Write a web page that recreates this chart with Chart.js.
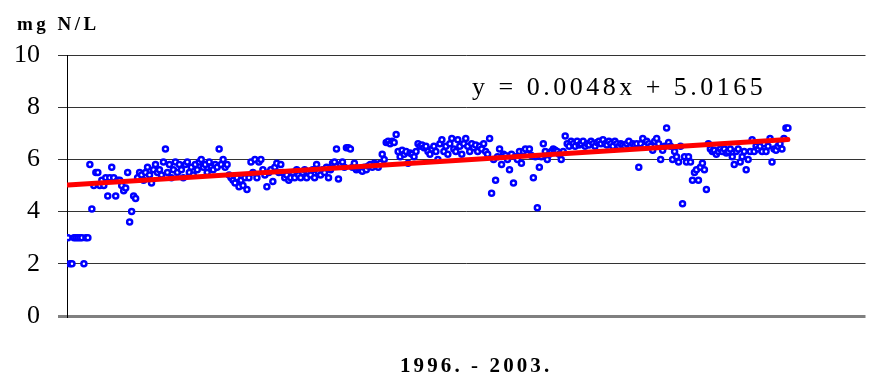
<!DOCTYPE html>
<html>
<head>
<meta charset="utf-8">
<script src="https://cdn.jsdelivr.net/npm/chart.js@4"></script>
<style>
  body { margin: 0; background: #fff; }
  #wrap { width: 872px; height: 374px; }
</style>
</head>
<body>
<div id="wrap"><canvas id="nChart" width="872" height="374"></canvas></div>
<script>
// measured values, mg N/L, in sample order (1996 - 2003)
var nitrogen = [
  3.0, 2.0, 2.0, 3.0, 3.0, 3.0, 3.0, 3.0, 2.0, 3.0, 3.0, 5.8, 4.1, 5.0, 5.5, 5.5, 5.0, 5.2, 5.0, 5.3,
  4.6, 5.3, 5.7, 5.3, 4.6, 5.2, 5.2, 5.0, 4.8, 4.9, 5.5, 3.6, 4.0, 4.6, 4.5, 5.3, 5.5, 5.4, 5.2, 5.5,
  5.7, 5.4, 5.1, 5.6, 5.8, 5.5, 5.6, 5.4, 5.9, 6.4, 5.5, 5.8, 5.3, 5.6, 5.9, 5.5, 5.8, 5.6, 5.3, 5.8,
  5.9, 5.5, 5.7, 5.4, 5.8, 5.6, 5.9, 6.0, 5.7, 5.8, 5.5, 5.9, 5.7, 5.6, 5.8, 5.7, 6.4, 5.8, 6.0, 5.7,
  5.8, 5.4, 5.3, 5.2, 5.1, 5.3, 4.95, 5.2, 5.0, 5.3, 4.85, 5.3, 5.9, 5.5, 6.0, 5.3, 5.9, 6.0, 5.6, 5.4,
  4.95, 5.5, 5.6, 5.15, 5.7, 5.85, 5.5, 5.8, 5.5, 5.3, 5.4, 5.2, 5.3, 5.5, 5.3, 5.6, 5.4, 5.3, 5.5, 5.6,
  5.3, 5.5, 5.4, 5.6, 5.3, 5.8, 5.5, 5.4, 5.6, 5.5, 5.7, 5.3, 5.6, 5.85, 5.9, 6.4, 5.25, 5.8, 5.9, 5.7,
  6.45, 6.45, 6.4, 5.7, 5.85, 5.6, 5.65, 5.6, 5.55, 5.7, 5.6, 5.75, 5.8, 5.7, 5.85, 5.8, 5.7, 5.85, 6.2, 6.0,
  6.65, 6.7, 6.6, 6.7, 6.65, 6.95, 6.3, 6.1, 6.35, 6.2, 6.3, 5.85, 6.25, 6.2, 6.1, 6.3, 6.6, 6.5, 6.55, 6.45,
  6.5, 6.3, 6.2, 6.4, 6.5, 6.3, 6.0, 6.6, 6.75, 6.3, 6.5, 6.2, 6.6, 6.8, 6.4, 6.3, 6.75, 6.5, 6.2, 6.6,
  6.8, 6.5, 6.3, 6.6, 6.45, 6.55, 6.3, 6.5, 6.4, 6.6, 6.3, 6.2, 6.8, 4.7, 6.0, 5.2, 6.1, 6.4, 5.8, 6.2,
  6.15, 6.0, 5.6, 6.2, 5.1, 6.1, 6.0, 6.3, 5.85, 6.3, 6.4, 6.2, 6.4, 6.15, 5.3, 6.1, 4.15, 5.7, 6.1, 6.6,
  6.3, 6.0, 6.2, 6.3, 6.4, 6.35, 6.3, 6.2, 6.0, 6.3, 6.9, 6.6, 6.5, 6.7, 6.6, 6.5, 6.7, 6.55, 6.6, 6.7,
  6.5, 6.6, 6.55, 6.7, 6.6, 6.5, 6.65, 6.7, 6.6, 6.75, 6.6, 6.55, 6.7, 6.6, 6.5, 6.7, 6.6, 6.5, 6.6, 6.55,
  6.5, 6.6, 6.7, 6.5, 6.6, 6.55, 6.6, 5.7, 6.6, 6.8, 6.5, 6.7, 6.6, 6.5, 6.35, 6.7, 6.8, 6.6, 6.0, 6.35,
  6.5, 7.2, 6.65, 6.5, 6.0, 6.3, 6.1, 5.9, 6.5, 4.3, 6.1, 5.9, 6.1, 5.9, 5.2, 5.5, 5.6, 5.2, 5.7, 5.85,
  5.6, 4.85, 6.6, 6.4, 6.3, 6.35, 6.2, 6.3, 6.4, 6.3, 6.4, 6.25, 6.3, 6.4, 6.1, 5.8, 6.3, 6.4, 5.9, 6.1,
  6.3, 5.6, 6.0, 6.3, 6.75, 6.3, 6.5, 6.4, 6.5, 6.3, 6.6, 6.3, 6.5, 6.8, 5.9, 6.4, 6.35, 6.5, 6.6, 6.4,
  6.8, 7.2, 7.2
];

// linear trend printed on the chart
var trendSlope = 0.0048;
var trendIntercept = 5.0165;
var trendText = 'y = 0.0048x + 5.0165';

var yTicks = [0, 2, 4, 6, 8, 10];
var yUnit = 'mg N/L';
var periodLabel = '1996. - 2003.';

var serif = "'Liberation Serif', 'Times New Roman', serif";

var points = nitrogen.map(function(v, i) {
  return { x: i + 1, y: v };
});
var trend = [1, nitrogen.length].map(function(x) {
  return { x: x, y: trendSlope * x + trendIntercept };
});

// texts drawn straight on the canvas (letter spacing like the original)
var textPlugin = {
  id: 'texts',
  afterDraw: function(chart) {
    var ctx = chart.ctx;
    ctx.save();
    ctx.fillStyle = '#000';
    ctx.textAlign = 'left';
    ctx.textBaseline = 'alphabetic';

    ctx.font = 'bold 19px ' + serif;
    ctx.letterSpacing = '3.5px';
    ctx.fillText(yUnit, 17, 30);

    ctx.font = '26px ' + serif;
    ctx.letterSpacing = '3.5px';
    ctx.fillText(trendText, 472, 95);

    ctx.font = 'bold 21px ' + serif;
    ctx.letterSpacing = '3.1px';
    ctx.fillText(periodLabel, 400, 372);
    ctx.restore();
  }
};

var ctx = document.getElementById('nChart').getContext('2d');
var nChart = new Chart(ctx, {
  type: 'scatter',
  data: {
    datasets: [{
      type: 'line',
      data: trend,
      borderColor: '#ff0000',
      borderWidth: 5,
      borderCapStyle: 'round',
      pointRadius: 0,
      order: 0
    }, {
      data: points,
      pointStyle: 'circle',
      pointRadius: 2.5,
      pointBorderWidth: 2.5,
      pointBorderColor: '#0000ff',
      pointBackgroundColor: '#ffffff',
      showLine: false,
      order: 1
    }]
  },
  options: {
    responsive: false,
    animation: false,
    layout: {
      padding: { left: 14, top: 55, right: 6, bottom: 58 }
    },
    plugins: {
      legend: { display: false },
      tooltip: { enabled: false }
    },
    scales: {
      x: {
        type: 'linear',
        display: false,
        min: 0.5,
        max: 402
      },
      y: {
        min: 0,
        max: 10,
        afterBuildTicks: function(axis) {
          axis.ticks = yTicks.map(function(v) { return { value: v }; });
        },
        afterFit: function(axis) {
          axis.width = 53;
        },
        border: { display: true, color: '#000', width: 1 },
        grid: {
          color: function(c) { return c.tick && c.tick.value === 0 ? '#808080' : '#333'; },
          lineWidth: function(c) { return c.tick && c.tick.value === 0 ? 3 : 1; },
          drawTicks: true,
          tickLength: 9
        },
        ticks: {
          color: '#000',
          padding: 18,
          font: { family: serif, size: 26 }
        }
      }
    }
  },
  plugins: [textPlugin]
});
</script>
</body>
</html>
